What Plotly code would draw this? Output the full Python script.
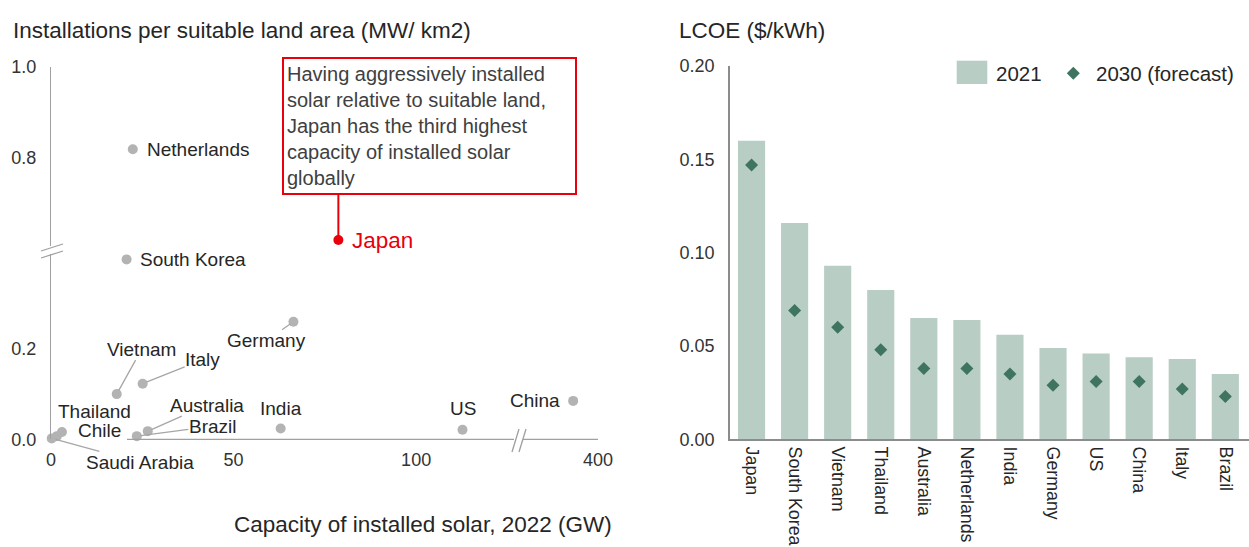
import plotly.graph_objects as go

W, H = 1249, 547

# ---------------- data: left panel (scatter) ----------------
countries = ["Saudi Arabia", "Chile", "Thailand", "Vietnam", "Italy", "Germany", "Australia",
             "Brazil", "India", "US", "China", "Netherlands", "South Korea", "Japan"]
capacity_gw = [0.2, 1.6, 3.0, 18.0, 25.1, 66.4, 26.5, 23.5, 62.9, 112.7, 393.2, 22.4, 20.7, 78.7]
density_mw_km2 = [0.002, 0.007, 0.016, 0.100, 0.123, 0.260, 0.018, 0.007, 0.024, 0.021, 0.085,
                  0.818, 0.398, 0.617]
highlight = "Japan"
x_ticks_low = [0, 50, 100]
x_ticks_high = [400]
y_ticks_low = [0.0, 0.2]
y_ticks_high = [0.8, 1.0]
callout_text = ("Having aggressively installed<br>solar relative to suitable land,<br>"
                "Japan has the third highest<br>capacity of installed solar<br>globally")

# ---------------- data: right panel (LCOE) ----------------
lcoe_countries = ["Japan", "South Korea", "Vietnam", "Thailand", "Australia", "Netherlands",
                  "India", "Germany", "US", "China", "Italy", "Brazil"]
lcoe_2021 = [0.160, 0.116, 0.093, 0.080, 0.065, 0.064, 0.056, 0.049, 0.046, 0.044, 0.043, 0.035]
lcoe_2030 = [0.147, 0.069, 0.060, 0.048, 0.038, 0.038, 0.035, 0.029, 0.031, 0.031, 0.027, 0.023]
lcoe_ticks = [0.00, 0.05, 0.10, 0.15, 0.20]

# ---------------- styling / layout helpers ----------------
FONT = "Liberation Sans, Arial, sans-serif"
DOT = "#b3b3b3"
RED = "#e8000b"
LEAD = "#a6a6a6"
AXIS_L = "#a0a0a0"
AXIS_R = "#8c8c8c"
BAR = "#b8cdc4"
DIAM = "#3f7560"
TXT = "#262626"

X_BREAK = (127.9, 378.1)   # axis break on capacity
Y_BREAK = (0.4188, 0.5949)  # axis break on density


def px(x):
    return x / W


def py(y):
    return 1 - y / H


# label offsets (pixels, text centre relative to dot) and leader flag
label_pos = {
    "Saudi Arabia": (88, 24, True),
    "Chile": (43, -6, False),
    "Thailand": (33, -21, False),
    "Vietnam": (25, -45, True),
    "Italy": (60, -24, True),
    "Germany": (-27, 19, True),
    "Australia": (59, -26, True),
    "Brazil": (76, -10, True),
    "India": (0, -20, False),
    "US": (0, -21, False),
    "China": (-38, 0, False),
    "Netherlands": (65, 0, False),
    "South Korea": (66, 0, False),
    "Japan": (44, 0, False),
}

fig = go.Figure()


def axes_for(cap, dens):
    xa = "x" if cap <= X_BREAK[0] else "x2"
    ya = "y" if dens <= Y_BREAK[0] else "y2"
    return xa, ya


groups = {}
for name, cap, dens in zip(countries, capacity_gw, density_mw_km2):
    groups.setdefault(axes_for(cap, dens), []).append((name, cap, dens))

for (xa, ya), pts in groups.items():
    fig.add_trace(go.Scatter(
        x=[p[1] for p in pts], y=[p[2] for p in pts], xaxis=xa, yaxis=ya,
        mode="markers", text=[p[0] for p in pts],
        marker=dict(size=10, color=[RED if p[0] == highlight else DOT for p in pts],
                    line=dict(width=0)),
        hoverinfo="text", showlegend=False, cliponaxis=False))

annotations = []
shapes = []
for name, cap, dens in zip(countries, capacity_gw, density_mw_km2):
    xa, ya = axes_for(cap, dens)
    dx, dy, leader = label_pos[name]
    is_hl = name == highlight
    annotations.append(dict(
        x=cap, y=dens, xref=xa, yref=ya, ax=dx, ay=dy, text=name,
        showarrow=True, arrowhead=0, arrowwidth=1.3, standoff=4,
        arrowcolor=LEAD if leader else "rgba(0,0,0,0)",
        font=dict(family=FONT, size=22.5 if is_hl else 19, color=RED if is_hl else TXT),
        borderpad=0))
    if is_hl:
        shapes.append(dict(type="line", xref=xa, yref=ya, x0=cap, x1=cap,
                           ysizemode="pixel", yanchor=dens, y0=0, y1=46,
                           line=dict(color=RED, width=2)))

# callout box
annotations.append(dict(
    x=px(281.7), y=py(57.3), xref="paper", yref="paper", xanchor="left", yanchor="top",
    text=callout_text, showarrow=False, align="left", valign="middle",
    width=285, height=128, borderpad=3, bordercolor=RED, borderwidth=2, bgcolor="white",
    font=dict(family=FONT, size=20, color="#404040")))

# titles
annotations += [
    dict(x=px(11), y=py(31), xref="paper", yref="paper", xanchor="left", yanchor="middle",
         text="Installations per suitable land area (MW/ km2)", showarrow=False,
         font=dict(family=FONT, size=22.5, color=TXT)),
    dict(x=px(677), y=py(31), xref="paper", yref="paper", xanchor="left", yanchor="middle",
         text="LCOE ($/kWh)", showarrow=False, font=dict(family=FONT, size=22.5, color=TXT)),
    dict(x=px(614), y=py(524), xref="paper", yref="paper", xanchor="right", yanchor="middle",
         text="Capacity of installed solar, 2022 (GW)", showarrow=False,
         font=dict(family=FONT, size=22.5, color=TXT)),
]

# left x-axis line and break marks
shapes += [
    dict(type="line", xref="paper", yref="paper", x0=px(127), x1=px(598), y0=py(439.3), y1=py(439.3),
         line=dict(color=AXIS_L, width=1.3)),
    dict(type="rect", xref="paper", yref="paper", x0=px(514), x1=px(523), y0=py(437), y1=py(442),
         fillcolor="white", line=dict(width=0)),
    dict(type="line", xref="paper", yref="paper", x0=px(512), x1=px(519), y0=py(452), y1=py(429),
         line=dict(color=AXIS_L, width=1.3)),
    dict(type="line", xref="paper", yref="paper", x0=px(519), x1=px(526), y0=py(452), y1=py(429),
         line=dict(color=AXIS_L, width=1.3)),
    dict(type="rect", xref="paper", yref="paper", x0=px(47), x1=px(56), y0=py(246), y1=py(254),
         fillcolor="white", line=dict(width=0)),
    dict(type="line", xref="paper", yref="paper", x0=px(41), x1=px(63), y0=py(251), y1=py(244),
         line=dict(color=AXIS_L, width=1.3)),
    dict(type="line", xref="paper", yref="paper", x0=px(41), x1=px(63), y0=py(258), y1=py(251),
         line=dict(color=AXIS_L, width=1.3)),
]

# ---------------- right panel ----------------
fig.add_trace(go.Bar(x=lcoe_countries, y=lcoe_2021, xaxis="x3", yaxis="y3", name="2021",
                     marker=dict(color=BAR, line=dict(width=0)), showlegend=False))
fig.add_trace(go.Scatter(x=lcoe_countries, y=lcoe_2030, xaxis="x3", yaxis="y3",
                         name="2030 (forecast)", mode="markers",
                         marker=dict(symbol="diamond", size=10, color=DIAM, line=dict(width=0)),
                         showlegend=False))

# manual legend
shapes += [
    dict(type="rect", xref="paper", yref="paper", x0=px(956.7), x1=px(987.3), y0=py(84), y1=py(60.7),
         fillcolor=BAR, line=dict(width=0)),
    dict(type="path", xref="paper", yref="paper",
         path=(f"M {px(1073.3)},{py(66.8)} L {px(1079.8)},{py(73.3)} "
               f"L {px(1073.3)},{py(79.8)} L {px(1066.8)},{py(73.3)} Z"),
         fillcolor=DIAM, line=dict(width=0)),
]
annotations += [
    dict(x=px(994), y=py(73.3), xref="paper", yref="paper", xanchor="left", yanchor="middle",
         text="2021", showarrow=False, font=dict(family=FONT, size=20.5, color=TXT)),
    dict(x=px(1094), y=py(73.3), xref="paper", yref="paper", xanchor="left", yanchor="middle",
         text="2030 (forecast)", showarrow=False, font=dict(family=FONT, size=20.5, color=TXT)),
]

tickfont = dict(family=FONT, size=18, color="#333333")
common = dict(showgrid=False, zeroline=False, ticks="", automargin=False)

fig.update_layout(
    template="none",
    width=W, height=H, margin=dict(l=0, r=0, t=0, b=0, pad=0, autoexpand=False),
    paper_bgcolor="white", plot_bgcolor="rgba(0,0,0,0)",
    showlegend=False, bargap=0.37,
    font=dict(family=FONT, color=TXT),
    xaxis=dict(domain=[px(51), px(518)], range=[0, X_BREAK[0]], anchor="y",
               tickvals=x_ticks_low, showline=False, tickfont=tickfont,
               ticklabelstandoff=8, **common),
    xaxis2=dict(domain=[px(518), px(598)], range=[X_BREAK[1], 400], anchor="y",
                tickvals=x_ticks_high, showline=False, tickfont=tickfont,
                ticklabelstandoff=8, **common),
    yaxis=dict(domain=[py(439.3), py(250)], range=[0, Y_BREAK[0]], anchor="x",
               tickvals=y_ticks_low, tickformat=".1f", showline=True, linecolor=AXIS_L,
               linewidth=1.3, tickfont=tickfont, ticklabelstandoff=10, **common),
    yaxis2=dict(domain=[py(250), py(66.5)], range=[Y_BREAK[1], 1.001], anchor="x",
                tickvals=y_ticks_high, tickformat=".1f", showline=True, linecolor=AXIS_L,
                linewidth=1.3, tickfont=tickfont, ticklabelstandoff=10, **common),
    xaxis3=dict(domain=[px(730), 1.0], range=[-0.5, 11.55], anchor="y3",
                showline=True, linecolor=AXIS_R, linewidth=1.5,
                tickangle=90, tickfont=dict(family=FONT, size=17.8, color=TXT),
                ticklabelstandoff=2, **common),
    yaxis3=dict(domain=[py(439.3), py(65.8)], range=[0, 0.2002], anchor="x3",
                tickvals=lcoe_ticks, tickformat=".2f", showline=True, linecolor=AXIS_R,
                linewidth=1.5, tickfont=tickfont, ticklabelstandoff=10, **common),
    annotations=annotations, shapes=shapes,
)

fig.write_html("out.html")
